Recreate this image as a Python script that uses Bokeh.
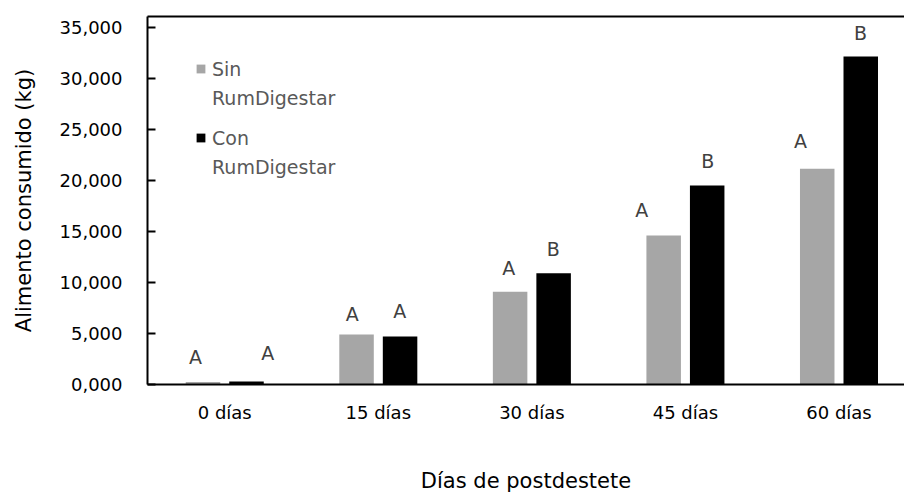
from bokeh.plotting import figure
from bokeh.models import ColumnDataSource, Legend, LegendItem, FixedTicker, LinearAxis
from bokeh.core.properties import value
from bokeh.embed import file_html
from bokeh.resources import INLINE

# ---- data ----
categories = ["0 días", "15 días", "30 días", "45 días", "60 días"]
sin_rum = [250, 4900, 9100, 14600, 21150]
con_rum = [300, 4700, 10900, 19500, 32150]
sin_letters = ["A", "A", "A", "A", "A"]
con_letters = ["A", "A", "B", "B", "B"]
# letter annotation placement (value units, category offsets)
sin_letter_y = [2650, 6960, 11470, 17060, 23920]
con_letter_y = [3040, 7160, 13330, 21960, 34510]
sin_letter_dx = [-0.19, -0.17, -0.15, -0.285, -0.25]
con_letter_dx = [0.28, 0.14, 0.14, 0.145, 0.14]
y_ticks = [0, 5000, 10000, 15000, 20000, 25000, 30000, 35000]
y_tick_labels = ["0,000", "5,000", "10,000", "15,000", "20,000", "25,000", "30,000", "35,000"]
series_names = ["Sin", "Con"]
series_sub = "RumDigestar"

FONT = "DejaVu Sans"
GRAY = "#A6A6A6"
Y_MAX = 36080
BAR_W = 0.2247
OFF = 0.1417

idx = list(range(len(categories)))
src = ColumnDataSource(dict(
    x_sin=[i - OFF for i in idx], x_con=[i + OFF for i in idx],
    sin=sin_rum, con=con_rum,
    lx_sin=[i + d for i, d in zip(idx, sin_letter_dx)],
    lx_con=[i + d for i, d in zip(idx, con_letter_dx)],
    ly_sin=sin_letter_y, ly_con=con_letter_y,
    t_sin=sin_letters, t_con=con_letters,
))

p = figure(width=904, height=495, output_backend="svg", toolbar_location=None,
           x_range=(-0.503, 4.4266), y_range=(0, Y_MAX),
           min_border_left=147, min_border_right=0, min_border_top=16, min_border_bottom=10)
p.outline_line_color = None
p.xgrid.visible = False
p.ygrid.visible = False
p.background_fill_color = "white"
p.border_fill_color = "white"

r1 = p.vbar(x="x_sin", top="sin", width=BAR_W, source=src, fill_color=GRAY, line_color=None)
r2 = p.vbar(x="x_con", top="con", width=BAR_W, source=src, fill_color="black", line_color=None)
dummy = p.scatter(x=[], y=[], fill_alpha=0, line_alpha=0)

for xs, ys, ts in (("lx_sin", "ly_sin", "t_sin"), ("lx_con", "ly_con", "t_con")):
    p.text(x=xs, y=ys, text=ts, source=src, text_font=value(FONT), text_font_size="19px",
           text_color="#404040", text_align="center", text_baseline="middle")

# y axis
ya = p.left[0]
ya.ticker = FixedTicker(ticks=y_ticks)
ya.major_label_overrides = {t: l for t, l in zip(y_ticks, y_tick_labels)}
ya.major_tick_in = 8
ya.major_tick_out = 0
ya.minor_tick_line_color = None
ya.axis_line_width = 2
ya.major_tick_line_width = 2
ya.major_label_standoff = 25
ya.major_label_text_font = FONT
ya.major_label_text_font_size = "18px"
ya.major_label_text_color = "black"
ya.axis_label = "Alimento consumido (kg)"
ya.axis_label_text_font = FONT
ya.axis_label_text_font_size = "21px"
ya.axis_label_text_font_style = "normal"
ya.axis_label_text_color = "black"
ya.axis_label_standoff = 21

# x axis
xa = p.below[0]
xa.ticker = FixedTicker(ticks=idx)
xa.major_label_overrides = {i: c for i, c in zip(idx, categories)}
xa.major_tick_in = 0
xa.major_tick_out = 0
xa.minor_tick_line_color = None
xa.axis_line_width = 2
xa.major_label_standoff = 17
xa.major_label_text_font = FONT
xa.major_label_text_font_size = "18px"
xa.major_label_text_color = "black"
xa.axis_label = "Días de postdestete"
xa.axis_label_text_font = FONT
xa.axis_label_text_font_size = "21px"
xa.axis_label_text_font_style = "normal"
xa.axis_label_text_color = "black"
xa.axis_label_standoff = 43

# top border line of the plot area
top_axis = LinearAxis(ticker=FixedTicker(ticks=[]), axis_line_width=2, axis_line_color="black",
                      major_tick_line_color=None, minor_tick_line_color=None,
                      major_label_text_alpha=0, major_label_text_font_size="1px",
                      major_label_standoff=0)
p.add_layout(top_axis, "above")


def make_legend(name, rend, loc):
    lg = Legend(items=[LegendItem(label=name, renderers=[rend]),
                       LegendItem(label=series_sub, renderers=[dummy])],
                location=loc)
    lg.margin = 0
    lg.padding = 0
    lg.spacing = 0
    lg.glyph_width = 11
    lg.glyph_height = 11
    lg.label_height = 29
    lg.label_standoff = 6
    lg.label_text_font = FONT
    lg.label_text_font_size = "19px"
    lg.label_text_color = "#595959"
    lg.border_line_color = None
    lg.background_fill_alpha = 0
    return lg


p.add_layout(make_legend(series_names[0], r1, (48, 272)))
p.add_layout(make_legend(series_names[1], r2, (48, 203)))

open("out.html", "w").write(file_html(p, INLINE))
